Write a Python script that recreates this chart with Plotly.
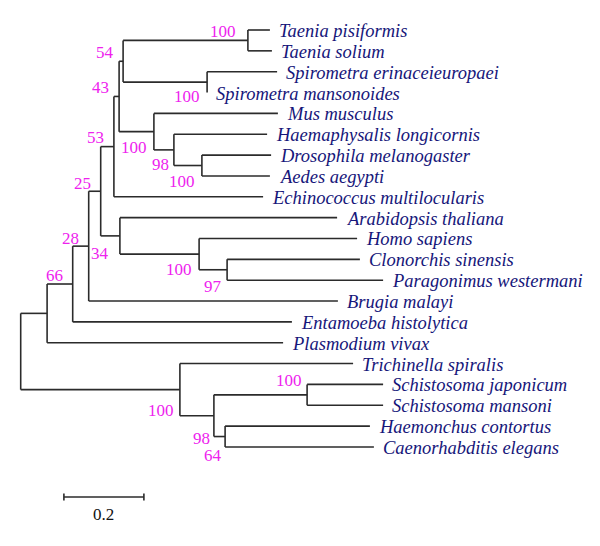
import plotly.graph_objects as go

# ---- Tree data (parent-child with branch lengths, children listed in display order) ----
nodes = ["root", "A", "B", "C", "Plasmodium vivax", "D", "Entamoeba histolytica",
         "E", "Brugia malayi", "F", "G", "J", "Echinococcus multilocularis",
         "K", "L", "TaeniaN", "SpiroN", "Taenia pisiformis", "Taenia solium",
         "Spirometra erinaceieuropaei", "Spirometra mansonoides",
         "Mus musculus", "M", "Haemaphysalis longicornis", "N",
         "Drosophila melanogaster", "Aedes aegypti",
         "Arabidopsis thaliana", "H", "Homo sapiens", "I",
         "Clonorchis sinensis", "Paragonimus westermani",
         "Trichinella spiralis", "O", "P", "Schistosoma japonicum",
         "Schistosoma mansoni", "Q", "Haemonchus contortus", "Caenorhabditis elegans"]
parents = [None, "root", "root", "A", "A", "C", "C",
           "D", "D", "E", "E", "F", "F",
           "J", "J", "K", "K", "TaeniaN", "TaeniaN",
           "SpiroN", "SpiroN",
           "L", "L", "M", "M",
           "N", "N",
           "G", "G", "H", "H",
           "I", "I",
           "B", "B", "O", "P",
           "P", "O", "Q", "Q"]
branch_lengths = [0.0, 0.066, 0.398, 0.064, 0.590, 0.040, 0.548,
                  0.030, 0.623, 0.033, 0.048, 0.013, 0.373,
                  0.010, 0.087, 0.312, 0.210, 0.055, 0.060,
                  0.175, 0.0,
                  0.310, 0.050, 0.233, 0.070,
                  0.173, 0.170,
                  0.543, 0.198, 0.395, 0.070,
                  0.332, 0.390,
                  0.433, 0.085, 0.233, 0.190,
                  0.190, 0.028, 0.362, 0.372]
bootstrap_nodes = ["TaeniaN", "SpiroN", "K", "J", "F", "E", "D", "C", "G",
                   "L", "M", "N", "H", "I", "B", "O", "Q", "P"]
bootstrap_values = [100, 100, 54, 43, 53, 25, 28, 66, 34,
                    100, 98, 100, 100, 97, 100, 98, 64, 100]
scale_bar_length = 0.2
scale_bar_label = "0.2"

# ---- label placement style (pixel offsets: dx from node, dy down) ----
boot_offsets = {"TaeniaN": (-10, -9), "SpiroN": (-5, 14), "K": (-7, -9), "J": (-8, -9),
                "F": (-8, -9), "E": (-8, -8), "D": (-8, -8), "C": (-8, -9), "G": (-9, 18),
                "L": (-5, 16), "M": (-3, 15), "N": (-5, 16), "H": (-5, 15), "I": (-3, 17),
                "B": (-4, 21), "O": (-2, 23), "Q": (-1, 19), "P": (-3, -14)}

# ---- layout computation ----
children = {n: [] for n in nodes}
blen = dict(zip(nodes, branch_lengths))
for n, p in zip(nodes, parents):
    if p is not None:
        children[p].append(n)

xpos, ypos = {}, {}
leaf_counter = [0]


def place(n, x0):
    xpos[n] = x0
    if not children[n]:
        ypos[n] = leaf_counter[0]
        leaf_counter[0] += 1
        return
    for c in children[n]:
        place(c, x0 + blen[c])
    ys = [ypos[c] for c in children[n]]
    ypos[n] = (ys[0] + ys[-1]) / 2.0


place("root", 0.0)

lx, ly = [], []
for n, p in zip(nodes, parents):
    if p is not None:
        lx += [xpos[p], xpos[n], None]
        ly += [ypos[n], ypos[n], None]
    if children[n]:
        c0, c1 = children[n][0], children[n][-1]
        lx += [xpos[n], xpos[n], None]
        ly += [ypos[c0], ypos[c1], None]

fig = go.Figure()
fig.add_trace(go.Scatter(x=lx, y=ly, mode="lines",
                         line=dict(color="#2b2b2b", width=1.6),
                         hoverinfo="skip", showlegend=False))

# scale bar
sb_x0 = 0.108
sb_y = 22.4
fig.add_trace(go.Scatter(
    x=[sb_x0, sb_x0 + scale_bar_length, None, sb_x0, sb_x0, None,
       sb_x0 + scale_bar_length, sb_x0 + scale_bar_length],
    y=[sb_y, sb_y, None, sb_y - 0.17, sb_y + 0.17, None, sb_y - 0.17, sb_y + 0.17],
    mode="lines", line=dict(color="#2b2b2b", width=1.6),
    hoverinfo="skip", showlegend=False))

annotations = []
for n in nodes:
    if not children[n]:
        annotations.append(dict(
            x=xpos[n], y=ypos[n], text="<i>%s</i>" % n, showarrow=False,
            xanchor="left", yanchor="middle", xshift=7, yshift=-1,
            font=dict(family="Liberation Serif, Times New Roman, serif",
                      size=18.5, color="#16167a")))
for n, v in zip(bootstrap_nodes, bootstrap_values):
    dx, dy = boot_offsets[n]
    annotations.append(dict(
        x=xpos[n], y=ypos[n], text=str(v), showarrow=False,
        xanchor="right", yanchor="middle", xshift=dx, yshift=-dy,
        font=dict(family="Liberation Serif, Times New Roman, serif",
                  size=17, color="#ee22ee")))
annotations.append(dict(
    x=sb_x0 + scale_bar_length / 2, y=sb_y, text=scale_bar_label, showarrow=False,
    xanchor="center", yanchor="middle", yshift=-17,
    font=dict(family="Liberation Serif, Times New Roman, serif", size=17, color="#111111")))

fig.update_layout(
    width=592, height=538, autosize=False,
    margin=dict(l=0, r=0, t=0, b=0),
    paper_bgcolor="white", plot_bgcolor="white",
    xaxis=dict(range=[-0.03175, 1.44825], visible=False, fixedrange=True),
    yaxis=dict(range=[24.75, -1.055], visible=False, fixedrange=True),
    annotations=annotations,
)

fig.write_html("out.html")
